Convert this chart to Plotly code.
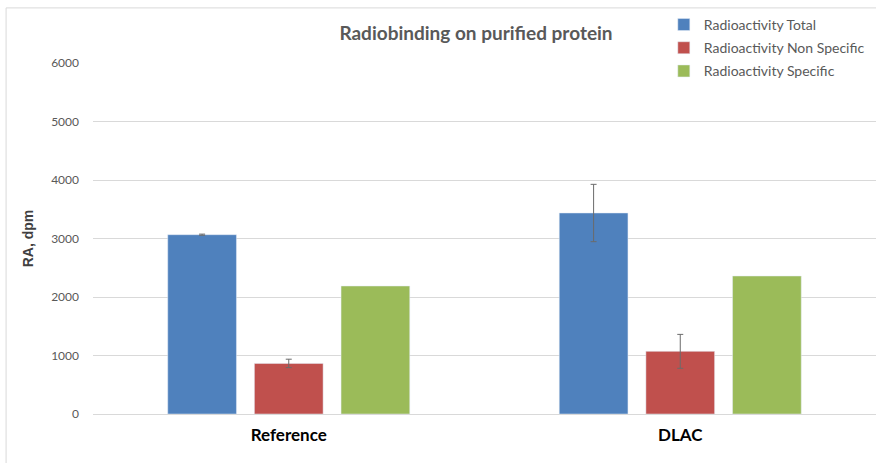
import plotly.graph_objects as go

categories = ["Reference", "DLAC"]
series_names = ["Radioactivity Total", "Radioactivity Non Specific", "Radioactivity Specific"]
total = [3065, 3436]
total_err = [10, 490]
nonspec = [865, 1071]
nonspec_err = [72, 290]
specific = [2188, 2359]
colors = ["#4F81BD", "#C0504D", "#9BBB59"]
y_ticks = [0, 1000, 2000, 3000, 4000, 5000, 6000]

fig = go.Figure()
err_style = dict(type="data", color="#6b6b6b", thickness=1, width=3, visible=True)
fig.add_trace(go.Bar(x=categories, y=total, name=series_names[0], marker_color=colors[0],
                     error_y=dict(array=total_err, **err_style), legendgroup="a"))
fig.add_trace(go.Bar(x=categories, y=nonspec, name=series_names[1], marker_color=colors[1],
                     error_y=dict(array=nonspec_err, **err_style), legendgroup="b"))
fig.add_trace(go.Bar(x=categories, y=specific, name=series_names[2], marker_color=colors[2],
                     legendgroup="c"))

fig.update_layout(
    width=876, height=463,
    margin=dict(l=93, r=0, t=63, b=49, autoexpand=False),
    plot_bgcolor="white", paper_bgcolor="white",
    barmode="group", bargap=0.336, bargroupgap=0.207,
    title=dict(text="<b>Radiobinding on purified protein</b>", x=476 / 876, xanchor="center",
               y=1 - 33 / 463, yanchor="middle",
               font=dict(family="Lato", size=19, color="#595959")),
    legend=dict(x=0.729, xanchor="left", y=1.154, yanchor="top", tracegroupgap=2,
                font=dict(family="Lato", size=14, color="#595959"), bgcolor="rgba(0,0,0,0)"),
    font=dict(family="Lato"),
    shapes=[dict(type="rect", xref="paper", yref="paper", x0=-0.111, x1=1.2,
                 y0=-0.3, y1=1.157, line=dict(color="#d9d9d9", width=1), layer="below")],
)
fig.update_yaxes(range=[0, 6000], tickvals=y_ticks, showgrid=True, gridcolor="#d9d9d9",
                 gridwidth=1, zeroline=False, showline=False,
                 tickfont=dict(family="Lato", size=12, color="#595959"), ticklen=0,
                 ticks="", ticklabelstandoff=13,
                 title=dict(text="<b>RA, dpm</b>", standoff=14,
                            font=dict(family="Liberation Sans", size=14, color="#404040")))
fig.update_xaxes(showline=True, linecolor="#d9d9d9", linewidth=1, ticks="",
                 tickfont=dict(family="Lato", size=17, color="#000000"),
                 ticklabelstandoff=6,
                 tickprefix="<b>", ticksuffix="</b>")
fig.write_html("out.html", config={"displayModeBar": False},
               post_script="document.body.style.margin='0';document.body.style.overflow='hidden';"
                           "document.documentElement.style.overflow='hidden';")
